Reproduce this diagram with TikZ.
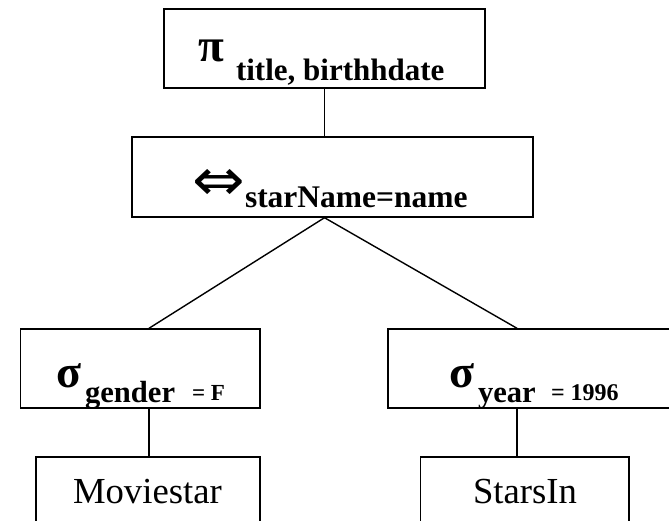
\documentclass[tikz,border=0pt]{standalone}
\usepackage{fontspec}
\setmainfont{Liberation Serif}
\newfontfamily\arrowfont{DejaVu Sans}
\begin{document}
\begin{tikzpicture}[x=1pt,y=-1pt,
  opbox/.style={draw=black,line width=1.4pt,rectangle,inner sep=0pt,fill=white},
  edge/.style={draw=black,line width=1.4pt},
  lbl/.style={anchor=base west,inner sep=0pt,outer sep=0pt},
  sz/.style={font=\fontsize{#1}{#1}\selectfont},
  bsz/.style={font=\fontsize{#1}{#1}\selectfont\bfseries}]
\useasboundingbox (0,0) rectangle (669,521);
\clip (0,0) rectangle (669,521);

% operator and relation boxes
\node[opbox,minimum width=321pt,minimum height=79pt] (proj) at (324.5,48.5) {};
\node[opbox,minimum width=401pt,minimum height=80pt] (join) at (332.5,177) {};
\node[opbox,minimum width=239.5pt,minimum height=79pt] (selL) at (140.25,368.5) {};
\node[opbox,minimum width=302pt,minimum height=79pt] (selR) at (539,368.5) {};
\node[opbox,minimum width=224pt,minimum height=90pt] (relL) at (148,502) {};
\node[opbox,minimum width=208.5pt,minimum height=90pt] (relR) at (524.75,502) {};

% stems of the tree
\coordinate (stemL) at (149,0);
\coordinate (stemR) at (517,0);
\draw[edge] (proj.south) -- (proj.south |- join.north);
\draw[edge] (proj.south |- join.south) -- (selL.north -| stemL);
\draw[edge] (proj.south |- join.south) -- (selR.north -| stemR);
\draw[edge] (selL.south -| stemL) -- (relL.north -| stemL);
\draw[edge] (selR.south -| stemR) -- (relR.north -| stemR);

% projection
\node[lbl,bsz=47] (piSym) at (198,62) {π};
\node[lbl,bsz=31] (piSub) at (236,81) {title, birthhdate};

% join
\node[lbl,font=\fontsize{44}{44}\selectfont\arrowfont] (joinSym) at (192,201) {\scalebox{1.43}[1.34]{⇔}};
\node[lbl,bsz=31.5] (joinSub) at (245,208) {starName=name};

% selections
\node[lbl,bsz=46] (sigL) at (56,387) {σ};
\node[lbl,bsz=30.6] (sigLsub) at (85,402) {gender};
\node[lbl,bsz=23] (sigLcond) at (192,400) {= F};
\node[lbl,bsz=46] (sigR) at (449,387) {σ};
\node[lbl,bsz=30.6] (sigRsub) at (478,402) {year};
\node[lbl,bsz=24] (sigRcond) at (551,400) {= 1996};

% relations
\node[lbl,sz=36.7] (movie) at (73,503) {Moviestar};
\node[lbl,sz=36.7] (stars) at (473,503) {StarsIn};
\end{tikzpicture}
\end{document}
